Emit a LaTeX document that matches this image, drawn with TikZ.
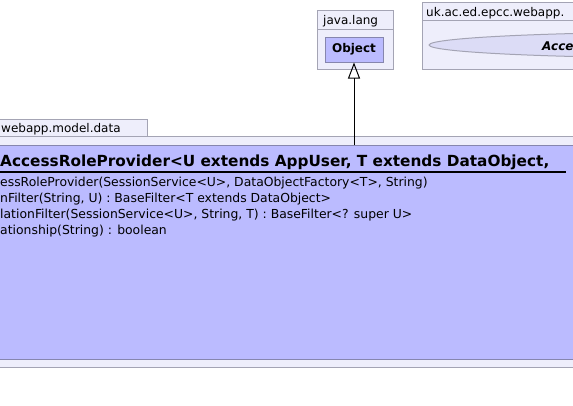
\documentclass[tikz,border=0pt]{standalone}
\usepackage{fontspec}
\setmainfont{DejaVu Sans}
\usetikzlibrary{positioning,arrows.meta,shapes.geometric}
\usepackage{xcolor}

\definecolor{pkgfill}{HTML}{EEEEFB}
\definecolor{pkgline}{HTML}{A4A4B4}
\definecolor{clsfill}{HTML}{BBBBFF}
\definecolor{clsline}{HTML}{8686AE}
\definecolor{ovalfill}{HTML}{DCDCF6}

\tikzset{
  pkg/.style={draw=pkgline, fill=pkgfill, line width=1pt, inner sep=0pt, anchor=north west},
  cls/.style={draw=clsline, fill=clsfill, line width=1pt, inner sep=0pt, anchor=north west},
  pkgname/.style={font=\fontsize{12}{14}\selectfont, anchor=base west, inner sep=0pt},
  member/.style={font=\fontsize{12.4}{14}\selectfont, anchor=base west, inner sep=0pt},
  extends/.style={-{Triangle[open,length=16pt,width=12pt]}, line width=1pt}
}

\begin{document}
\begin{tikzpicture}[x=1pt,y=-1pt]
\useasboundingbox (0,0) rectangle (573,405);
\clip (0,0) rectangle (573,405);

% java.lang package with Object
\node[pkg, minimum width=76pt, minimum height=59pt] (jlang) at (317,10) {};
\draw[pkgline, line width=1pt] ([yshift=-19pt]jlang.north west) -- ([yshift=-19pt]jlang.north east);
\node[pkgname] (jlangname) at (323,24) {java.lang};
\node[cls, minimum width=58pt, minimum height=25pt, font=\fontsize{12}{14}\selectfont\bfseries,
      anchor=center] (obj) at (354,49.5) {Object};

% the other package, cut off at the right
\node[pkg, minimum width=170pt, minimum height=67pt] (epcc) at (422,2) {};
\draw[pkgline, line width=1pt] ([yshift=-18pt]epcc.north west) -- ([yshift=-18pt]epcc.north east);
\node[pkgname] (epccname) at (426,16) {uk.ac.ed.epcc.webapp.};
\node[ellipse, draw=pkgline, fill=ovalfill, line width=1pt, minimum width=544pt,
      minimum height=26pt, inner sep=0pt] (remote) at (701,45) {};
\node[font=\fontsize{12}{14}\selectfont\bfseries\itshape, anchor=base west, inner sep=0pt]
      (remotename) at (542,50) {Acce};

% webapp.model.data package
\node[pkg, minimum width=152pt, minimum height=17pt] (datatab) at (-5,119) {};
\node[pkgname] (dataname) at (1,132) {webapp.model.data};
\node[pkg, minimum width=590pt, minimum height=231pt] (data) at (-5,136) {};

% the class
\node[cls, minimum width=590pt, minimum height=214pt] (arp) at (-5,145) {};
\draw[line width=2pt] (-5,172) -- (566,172);
\node[font=\fontsize{15.3}{17}\selectfont\bfseries, anchor=base west, inner sep=0pt]
      (arpname) at (0,166) {AccessRoleProvider<U extends AppUser, T extends DataObject,};
\node[member] (m1) at (0,186) {essRoleProvider(SessionService<U>, DataObjectFactory<T>, String)};
\node[member] (m2) at (0,202) {nFilter(String, U) : BaseFilter<T extends DataObject>};
\node[member] (m3) at (0,218) {lationFilter(SessionService<U>, String, T) : BaseFilter<? super U>};
\node[member] (m4) at (0,234) {ationship(String) : boolean};

% generalisation
\draw[extends] (obj.south |- arp.north) -- (obj.south);
\end{tikzpicture}
\end{document}
